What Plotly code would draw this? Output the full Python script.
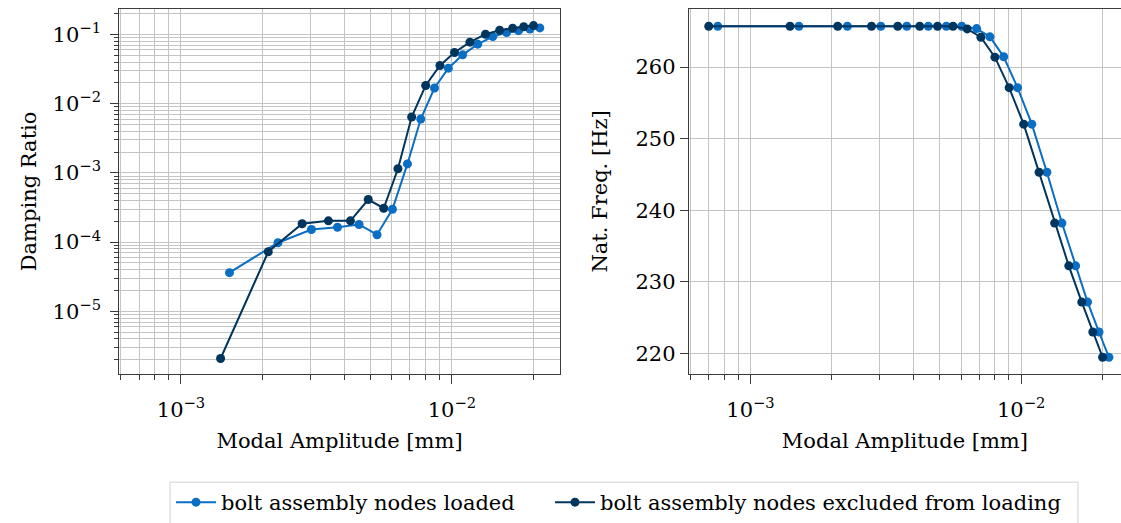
import plotly.graph_objects as go

# ---------------- data ----------------
names = ["bolt assembly nodes loaded", "bolt assembly nodes excluded from loading"]

amp_loaded = [7.57e-4, 1.51e-3, 2.28e-3, 3.03e-3, 3.78e-3, 4.54e-3, 5.29e-3, 6.03e-3,
              6.85e-3, 7.67e-3, 8.62e-3, 9.70e-3, 1.095e-2, 1.245e-2, 1.415e-2,
              1.59e-2, 1.76e-2, 1.94e-2, 2.11e-2]
amp_excluded = [7.01e-4, 1.40e-3, 2.10e-3, 2.80e-3, 3.50e-3, 4.22e-3, 4.91e-3, 5.60e-3,
                6.32e-3, 7.10e-3, 8.00e-3, 9.03e-3, 1.022e-2, 1.165e-2, 1.33e-2,
                1.50e-2, 1.675e-2, 1.84e-2, 2.00e-2]

damp_loaded = [None, 3.62e-5, 9.8e-5, 1.52e-4, 1.64e-4, 1.80e-4, 1.28e-4, 2.99e-4,
               1.35e-3, 6.02e-3, 1.69e-2, 3.27e-2, 5.09e-2, 7.27e-2, 9.36e-2,
               0.107, 0.114, 0.120, 0.125]
damp_excluded = [None, 2.08e-6, 7.26e-5, 1.84e-4, 2.03e-4, 2.03e-4, 4.13e-4, 3.09e-4,
                 1.15e-3, 6.44e-3, 1.84e-2, 3.57e-2, 5.50e-2, 7.77e-2, 0.1013,
                 0.1156, 0.1236, 0.130, 0.135]

freq_loaded = [265.7, 265.7, 265.7, 265.7, 265.7, 265.7, 265.7, 265.7,
               265.38, 264.23, 261.45, 257.13, 252.03, 245.31, 238.22,
               232.24, 227.18, 223.0, 219.48]
freq_excluded = [265.7, 265.7, 265.7, 265.7, 265.7, 265.7, 265.7, 265.7,
                 265.34, 264.17, 261.39, 257.13, 252.03, 245.31, 238.22,
                 232.24, 227.18, 223.0, 219.48]

x_exponents = [-3, -2]
y_exponents = [-5, -4, -3, -2, -1]
x_minor = [6e-4, 7e-4, 8e-4, 9e-4] + [k * 1e-3 for k in range(2, 10)] + [2e-2]
y_minor = [k * 10.0 ** e for e in range(-6, 0) for k in range(2, 10)]
f_ticks = [220, 230, 240, 250, 260]


def pow_label(e):
    return "10<sup>" + ("\u2212" if e < 0 else "") + str(abs(e)) + "</sup>"


# ---------------- style ----------------
C_LOADED = "#0a6ec4"
C_EXCL = "#00355e"
FONT = "DejaVu Serif"
GRID = "#c4c4c4"
FRAME = "#3c3c3c"
FS = 21

W, H = 1121, 523
fig = go.Figure()

for amp, damp, freq, col, nm, lg in [
    (amp_loaded, damp_loaded, freq_loaded, C_LOADED, names[0], "legend"),
    (amp_excluded, damp_excluded, freq_excluded, C_EXCL, names[1], "legend2"),
]:
    fig.add_trace(go.Scatter(x=amp, y=damp, mode="lines+markers", name=nm,
                             line=dict(color=col, width=2),
                             marker=dict(color=col, size=9),
                             xaxis="x", yaxis="y", legendgroup=nm, showlegend=True,
                             legend=lg))
    fig.add_trace(go.Scatter(x=amp, y=freq, mode="lines+markers", name=nm,
                             line=dict(color=col, width=2),
                             marker=dict(color=col, size=9),
                             xaxis="x2", yaxis="y2", legendgroup=nm, showlegend=False,
                             legend=lg))

tickfont = dict(family=FONT, size=FS, color="black")
titlefont = dict(family=FONT, size=FS, color="black")

xcommon = dict(type="log",
               tickvals=[10.0 ** e for e in x_exponents],
               ticktext=[pow_label(e) for e in x_exponents],
               ticks="outside", ticklen=9, tickcolor=FRAME, tickwidth=1,
               ticklabelstandoff=8,
               showgrid=True, gridcolor=GRID, gridwidth=1,
               minor=dict(tickvals=x_minor, ticks="outside", ticklen=5,
                          tickcolor=FRAME, showgrid=True, gridcolor=GRID, gridwidth=1),
               showline=True, linecolor=FRAME, linewidth=1, mirror=True,
               zeroline=False, tickfont=tickfont,
               title=dict(text="Modal Amplitude [mm]", font=titlefont, standoff=12))

legcommon = dict(orientation="h", xanchor="left", y=1 - 484 / H, yanchor="top",
                 borderwidth=0, bgcolor="rgba(0,0,0,0)",
                 font=dict(family=FONT, size=FS, color="black"), itemwidth=40)

fig.update_layout(
    width=W, height=H,
    margin=dict(l=0, r=0, t=0, b=0),
    paper_bgcolor="white", plot_bgcolor="white",
    font=dict(family=FONT, color="black"),
    xaxis=dict(domain=[119.2 / W, 559.8 / W], range=[-3.228, -1.602], anchor="y", **xcommon),
    xaxis2=dict(domain=[688.8 / W, 1.0], range=[-3.228, -1.631], anchor="y2", **xcommon),
    yaxis=dict(domain=[1 - 375 / H, 1 - 9.3 / H], type="log", range=[-5.90, -0.634],
               tickvals=[10.0 ** e for e in y_exponents],
               ticktext=[pow_label(e) for e in y_exponents],
               ticks="outside", ticklen=8, tickcolor=FRAME, ticklabelstandoff=5,
               showgrid=True, gridcolor=GRID,
               minor=dict(tickvals=y_minor, ticks="outside", ticklen=4,
                          tickcolor=FRAME, showgrid=True, gridcolor=GRID),
               showline=True, linecolor=FRAME, linewidth=1, mirror=True,
               zeroline=False, tickfont=tickfont, anchor="x",
               title=dict(text="Damping Ratio", font=titlefont, standoff=10)),
    yaxis2=dict(domain=[1 - 375 / H, 1 - 9.3 / H], range=[217.2, 268.08],
                tickvals=f_ticks, ticks="outside", ticklen=8, tickcolor=FRAME,
                showgrid=True, gridcolor=GRID,
                showline=True, linecolor=FRAME, linewidth=1, mirror=False,
                zeroline=False, tickfont=tickfont, anchor="x2",
                title=dict(text="Nat. Freq. [Hz]", font=titlefont, standoff=22)),
    legend=dict(x=171 / W, **legcommon),
    legend2=dict(x=550 / W, **legcommon),
    shapes=[dict(type="rect", xref="paper", yref="paper",
                 x0=170 / W, x1=1078 / W, y0=-0.01, y1=1 - 484 / H,
                 line=dict(color="#d0d0d0", width=1), fillcolor="rgba(0,0,0,0)",
                 layer="below")],
)

fig.write_html("out.html")
